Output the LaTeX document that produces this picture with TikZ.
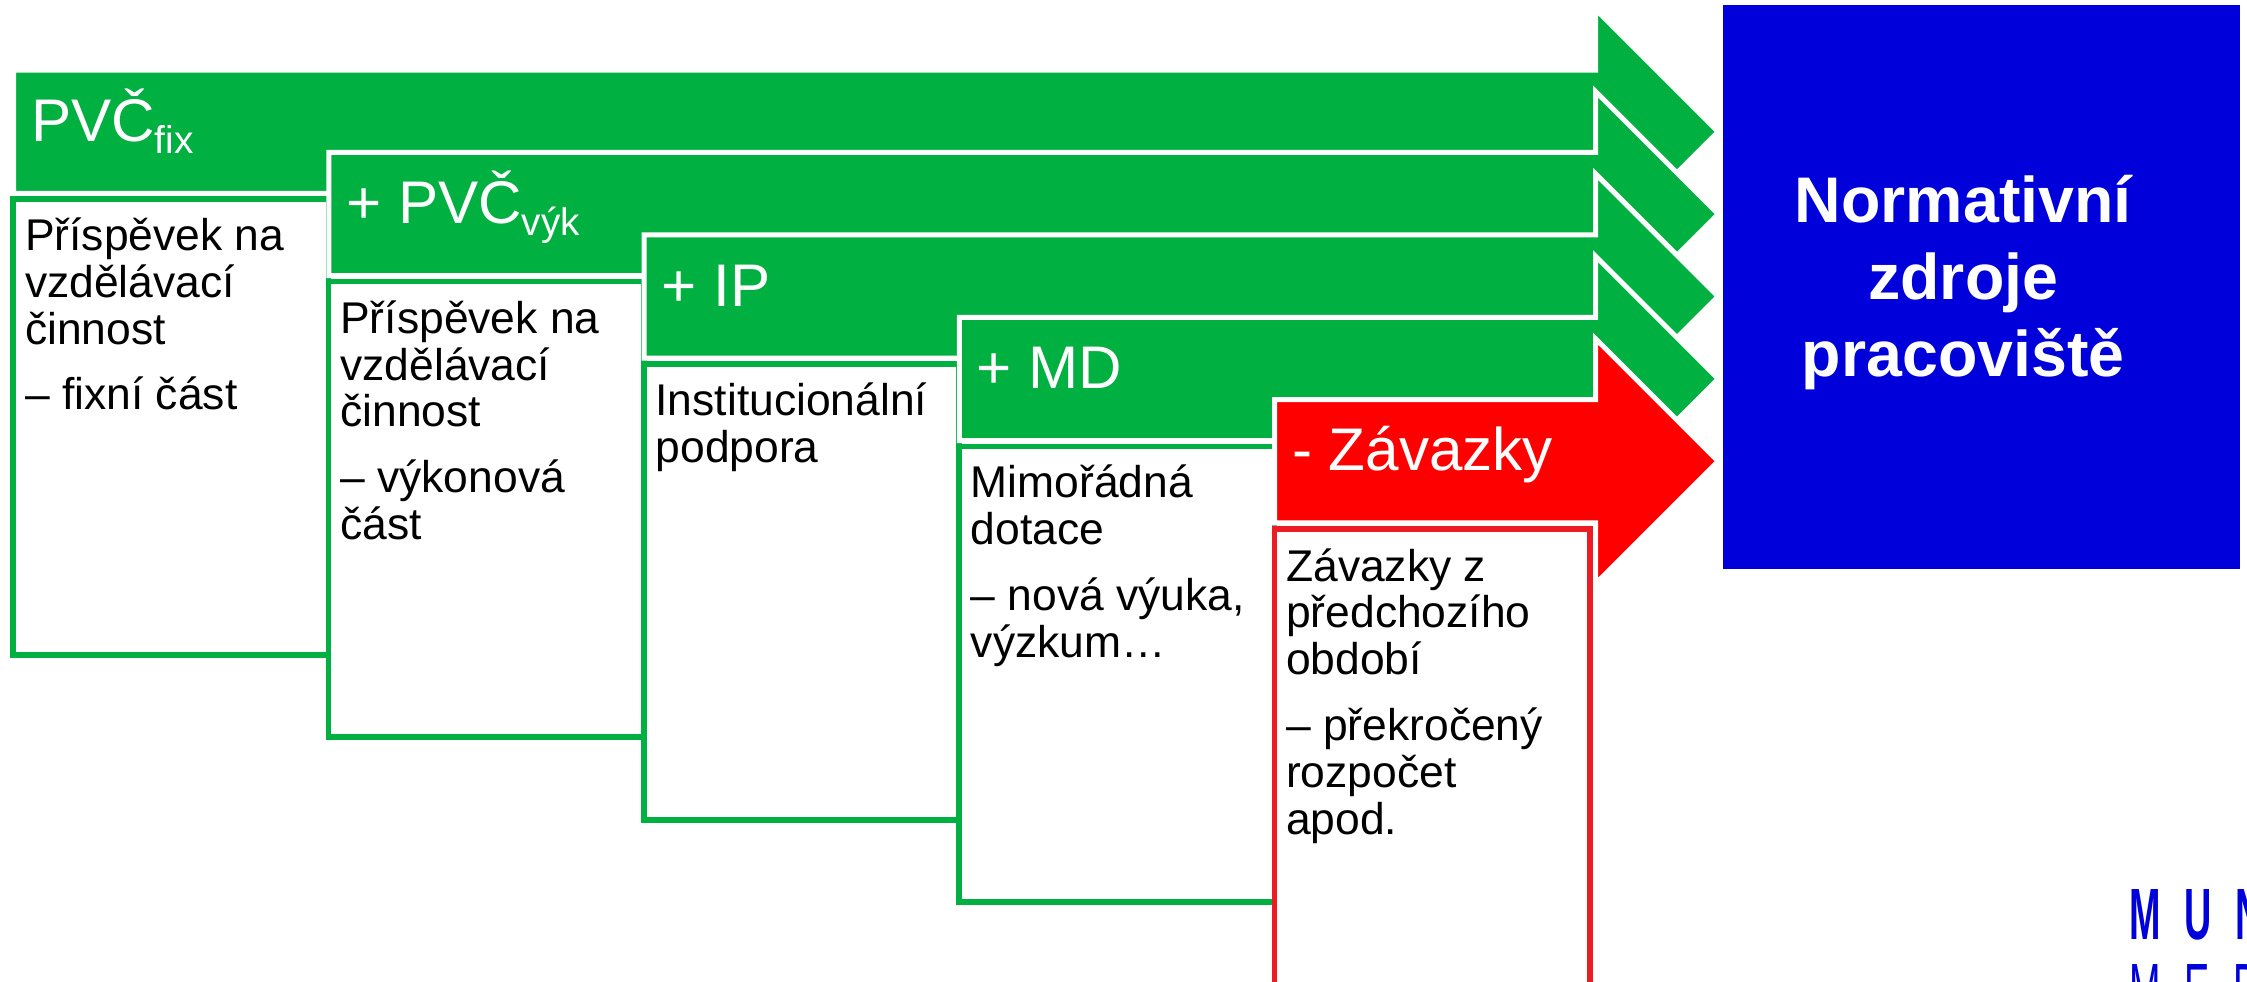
\documentclass[tikz,border=0pt]{standalone}
\usepackage{fontspec}
\setmainfont{Liberation Sans}
\definecolor{pgreen}{RGB}{0,176,64}
\definecolor{pred}{RGB}{255,0,0}
\definecolor{bred}{RGB}{237,28,36}
\definecolor{pblue}{RGB}{0,0,218}
\newcommand\subtxt[1]{\raisebox{-8.5pt}{\fontsize{27}{27}\selectfont #1}}
\newcommand\boxlines[1]{\vtop{\baselineskip=32.7pt\lineskiplimit=-100pt #1}}
\newcommand\pgap{\vskip 13pt}
\newcommand\ctrline[1]{\hbox to 0pt{\hss #1\hss}}
\begin{document}
\begin{tikzpicture}[x=1pt,y=-1pt,
  arrowg/.style={fill=pgreen, draw=white, line width=3.5pt, line join=miter},
  arrowr/.style={fill=pred, draw=white, line width=3.5pt, line join=miter},
  gbox/.style={fill=white, draw=pgreen, line width=4pt},
  rbox/.style={fill=white, draw=bred, line width=4pt},
  lbl/.style={text=white, font=\fontsize{42}{42}\selectfont, anchor=base west, inner sep=0pt},
  btxt/.style={text=black, font=\fontsize{31}{32.7}\selectfont, anchor=base west, inner sep=0pt},
  logo/.style={text=pblue, anchor=base west, inner sep=0pt}]
\useasboundingbox (0,0) rectangle (1568,685.25);
\clip (0,0) rectangle (1568,685.25);
% arrow 1 and box 1
\draw[arrowg] (9.5,48.9) -- (1113.5,48.9) -- (1113.5,6.4) -- (1199,91.9) -- (1113.5,177.4) -- (1113.5,134.9) -- (9.5,134.9) -- cycle;
\node[lbl] (l1) at (21.5,98.6) {PVČ\subtxt{fix}};
\draw[gbox] (9.3,139) rectangle (229.3,457);
\node[btxt] (t1) at (17.3,175) {\boxlines{\hbox{Příspěvek na}\hbox{vzdělávací}\hbox{činnost}\pgap\hbox{– fixní část}}};
% arrow 2 and box 2
\draw[arrowg] (229.5,106.4) -- (1113.5,106.4) -- (1113.5,63.9) -- (1199,149.4) -- (1113.5,234.9) -- (1113.5,192.4) -- (229.5,192.4) -- cycle;
\node[lbl] (l2) at (241.5,156.1) {+ PVČ\subtxt{výk}};
\draw[gbox] (229.3,196.5) rectangle (449.3,514.5);
\node[btxt] (t2) at (237.3,232.5) {\boxlines{\hbox{Příspěvek na}\hbox{vzdělávací}\hbox{činnost}\pgap\hbox{– výkonová}\hbox{část}}};
% arrow 3 and box 3
\draw[arrowg] (449.5,163.9) -- (1113.5,163.9) -- (1113.5,121.4) -- (1199,206.9) -- (1113.5,292.4) -- (1113.5,249.9) -- (449.5,249.9) -- cycle;
\node[lbl] (l3) at (461.5,213.6) {+ IP};
\draw[gbox] (449.3,254) rectangle (669.3,572);
\node[btxt] (t3) at (457.3,290) {\boxlines{\hbox{Institucionální}\hbox{podpora}}};
% arrow 4 and box 4
\draw[arrowg] (669.5,221.4) -- (1113.5,221.4) -- (1113.5,178.9) -- (1199,264.4) -- (1113.5,349.9) -- (1113.5,307.4) -- (669.5,307.4) -- cycle;
\node[lbl] (l4) at (681.5,271.1) {+ MD};
\draw[gbox] (669.3,311.5) rectangle (889.3,629.5);
\node[btxt] (t4) at (677.3,347.5) {\boxlines{\hbox{Mimořádná}\hbox{dotace}\pgap\hbox{– nová výuka,}\hbox{výzkum…}}};
% arrow 5 (red) and box 5
\draw[arrowr] (889.5,278.9) -- (1113.5,278.9) -- (1113.5,236.4) -- (1199,321.9) -- (1113.5,407.4) -- (1113.5,364.9) -- (889.5,364.9) -- cycle;
\node[lbl] (l5) at (901.5,328.6) {- Závazky};
\draw[rbox] (889.3,369) rectangle (1109.3,700);
\node[btxt] (t5) at (897.3,405.5) {\boxlines{\hbox{Závazky z}\hbox{předchozího}\hbox{období}\pgap\hbox{– překročený}\hbox{rozpočet}\hbox{apod.}}};
% result box
\fill[pblue] (1202,3.3) rectangle (1563,397);
\node[text=white, anchor=base, inner sep=0pt, font=\fontsize{45}{53.7}\selectfont\bfseries] (nz) at (1370,155.5)
  {\vtop{\baselineskip=53.7pt\ctrline{Normativní}\ctrline{zdroje}\ctrline{pracoviště}}};
% logo
\node[logo] (muni) at (1486,655.3) {\scalebox{0.52}[1]{\fontsize{50.7}{50.7}\selectfont\bfseries M\hspace{31.7pt}U\hspace{31.7pt}N\hspace{31.7pt}I}};
\node[logo] (med) at (1486,707.6) {\scalebox{0.52}[1]{\fontsize{50.7}{50.7}\selectfont M\hspace{31.7pt}E\hspace{31.7pt}D}};
\end{tikzpicture}
\end{document}
